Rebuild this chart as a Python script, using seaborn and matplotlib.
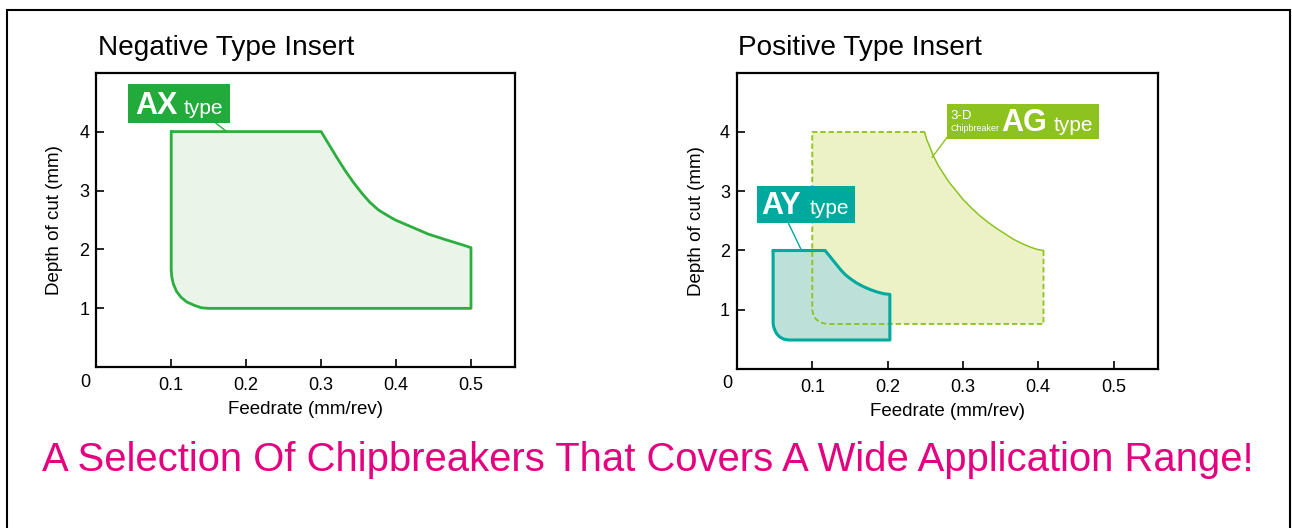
import matplotlib
matplotlib.use("Agg")
import matplotlib.pyplot as plt
from matplotlib.patches import Rectangle
import seaborn as sns

# Chart data
feed_ticks = [0.1, 0.2, 0.3, 0.4, 0.5]
depth_ticks = [1, 2, 3, 4]

# AX type (negative insert) outline
ax_feed = [0.10, 0.30, 0.310, 0.321, 0.332, 0.343, 0.354, 0.365, 0.3765, 0.388,
           0.399, 0.421, 0.443, 0.465, 0.488, 0.50, 0.50, 0.149, 0.140, 0.131,
           0.1205, 0.113, 0.107, 0.1027, 0.1007, 0.10, 0.10]
ax_depth = [4.0, 4.0, 3.79, 3.56, 3.34, 3.14, 2.96, 2.80, 2.67, 2.58,
            2.50, 2.38, 2.26, 2.17, 2.08, 2.03, 1.0, 1.0, 1.01, 1.05,
            1.11, 1.19, 1.29, 1.42, 1.54, 1.65, 4.0]

# AG type (3-D chipbreaker, positive insert) outline
ag_feed = [0.10, 0.249, 0.252, 0.256, 0.261, 0.267, 0.275, 0.283, 0.292, 0.301,
           0.312, 0.323, 0.334, 0.345, 0.356, 0.367, 0.378, 0.389, 0.398, 0.407,
           0.407, 0.119, 0.111, 0.105, 0.1015, 0.10, 0.10]
ag_depth = [4.0, 4.0, 3.87, 3.75, 3.59, 3.44, 3.28, 3.13, 2.99, 2.85,
            2.71, 2.58, 2.47, 2.37, 2.28, 2.19, 2.12, 2.06, 2.02, 2.0,
            0.76, 0.76, 0.785, 0.84, 0.91, 0.995, 4.0]

# AY type (positive insert) outline
ay_feed = [0.048, 0.117, 0.124, 0.131, 0.138, 0.144, 0.151, 0.159, 0.168, 0.177,
           0.186, 0.195, 0.203, 0.203, 0.068, 0.062, 0.057, 0.053, 0.0505, 0.0488,
           0.048, 0.048]
ay_depth = [2.0, 2.0, 1.89, 1.78, 1.67, 1.59, 1.52, 1.45, 1.39, 1.34,
            1.30, 1.27, 1.26, 0.49, 0.49, 0.505, 0.54, 0.59, 0.65, 0.71,
            0.77, 2.0]

GREEN = "#2bae3e"
GREEN_BOX = "#22ab3b"
GREEN_FILL = "#eaf4e9"
LIME = "#8dc21f"
LIME_FILL = "#ecf2c5"
TEAL = "#00a99d"
TEAL_FILL = "#bde1d8"
PINK = "#e4007f"

sns.set_theme(style="white")
plt.rcParams["font.family"] = ["Liberation Sans", "DejaVu Sans"]
plt.rcParams["text.color"] = "black"
plt.rcParams["axes.labelcolor"] = "black"
plt.rcParams["xtick.color"] = "black"
plt.rcParams["ytick.color"] = "black"

fig = plt.figure(figsize=(12.92, 5.28), dpi=100)
ax1 = fig.add_axes([0.0745, 0.3044, 0.3241, 0.5580])
ax2 = fig.add_axes([0.5704, 0.3011, 0.3257, 0.5612])


def style_axes(ax, ylab_x, zero_xy):
    ax.set_xlim(0, 0.5587)
    ax.set_ylim(0, 5.0)
    ax.set_xticks(feed_ticks)
    ax.set_xticklabels([str(v) for v in feed_ticks])
    ax.set_yticks(depth_ticks)
    ax.set_yticklabels([str(v) for v in depth_ticks])
    for s in ax.spines.values():
        s.set_visible(True)
        s.set_color("black")
        s.set_linewidth(1.6)
    ax.tick_params(axis="both", which="major", direction="in", length=6,
                   width=1.2, labelsize=13, bottom=True, left=True,
                   colors="black")
    ax.tick_params(axis="x", pad=7)
    ax.tick_params(axis="y", pad=5)
    ax.set_xlabel("Feedrate (mm/rev)", fontsize=13.5)
    ax.set_ylabel("Depth of cut (mm)", fontsize=13.5)
    ax.xaxis.set_label_coords(0.5, -0.145)
    ax.xaxis.label.set_va("center")
    ax.yaxis.set_label_coords(ylab_x, 0.5)
    ax.yaxis.label.set_va("center")
    ax.text(zero_xy[0], zero_xy[1], "0", transform=ax.transAxes, fontsize=13,
            ha="center", va="center")
    ax.grid(False)


style_axes(ax1, -0.099, (-0.027, -0.05))
style_axes(ax2, -0.095, (-0.022, -0.05))

# ---- Negative insert: AX type
ax1.fill(ax_feed, ax_depth, color=GREEN_FILL, lw=0, zorder=1)
sns.lineplot(x=ax_feed, y=ax_depth, sort=False, estimator=None, ax=ax1,
             color=GREEN, linewidth=2.0, solid_joinstyle="round", zorder=3)
ax1.plot([0.159, 0.174], [4.15, 4.0], color=GREEN, lw=1.0, zorder=3)
ax1.add_patch(Rectangle((0.0427, 4.15), 0.1363, 0.66, color=GREEN_BOX, lw=0, zorder=4))
ax1.text(0.0525, 4.305, "AX", color="white", fontsize=22, fontweight="bold",
         ha="left", va="baseline", zorder=5)
ax1.text(0.117, 4.305, "type", color="white", fontsize=15,
         ha="left", va="baseline", zorder=5)

# ---- Positive insert: AG type and AY type
ax2.fill(ag_feed, ag_depth, color=LIME_FILL, lw=0, zorder=1)
ax2.fill(ay_feed, ay_depth, color=TEAL_FILL, lw=0, zorder=2)
sns.lineplot(x=ag_feed[1:20], y=ag_depth[1:20], sort=False, estimator=None,
             ax=ax2, color=LIME, linewidth=1.1, zorder=3)
sns.lineplot(x=ag_feed[19:] + ag_feed[1:2], y=ag_depth[19:] + ag_depth[1:2],
             sort=False, estimator=None, ax=ax2, color=LIME, linewidth=1.3,
             linestyle=(0, (3, 1.6)), zorder=3)
sns.lineplot(x=ay_feed, y=ay_depth, sort=False, estimator=None, ax=ax2,
             color=TEAL, linewidth=2.2, solid_joinstyle="round", zorder=4)

ax2.plot([0.279, 0.259], [3.91, 3.57], color=LIME, lw=1.0, zorder=3)
ax2.add_patch(Rectangle((0.279, 3.88), 0.202, 0.59, color=LIME, lw=0, zorder=5))
ax2.text(0.2838, 4.22, "3-D", color="white", fontsize=9.5,
         ha="left", va="baseline", zorder=6)
ax2.text(0.2835, 4.01, "Chipbreaker", color="white", fontsize=6.4,
         ha="left", va="baseline", zorder=6)
ax2.text(0.3515, 4.02, "AG", color="white", fontsize=22, fontweight="bold",
         ha="left", va="baseline", zorder=6)
ax2.text(0.421, 4.02, "type", color="white", fontsize=15,
         ha="left", va="baseline", zorder=6)

ax2.plot([0.068, 0.085], [2.47, 2.02], color=TEAL, lw=1.0, zorder=4)
ax2.add_patch(Rectangle((0.027, 2.47), 0.130, 0.62, color=TEAL, lw=0, zorder=5))
ax2.text(0.0328, 2.614, "AY", color="white", fontsize=22, fontweight="bold",
         ha="left", va="baseline", zorder=6)
ax2.text(0.097, 2.614, "type", color="white", fontsize=15,
         ha="left", va="baseline", zorder=6)

# titles and slogan
fig.text(98 / 1292, 1 - 55 / 528, "Negative Type Insert", fontsize=20.2,
         ha="left", va="baseline")
fig.text(738 / 1292, 1 - 55 / 528, "Positive Type Insert", fontsize=20.2,
         ha="left", va="baseline")
fig.text(648 / 1292, 1 - 460 / 528,
         "A Selection Of Chipbreakers That Covers A Wide Application Range!",
         fontsize=28.8, color=PINK, ha="center", va="center")

# outer frame (bottom edge runs off the picture)
fig.patches.append(Rectangle((7 / 1292, -0.1), 1283 / 1292, 1.1 - 10 / 528,
                             transform=fig.transFigure, fill=False,
                             edgecolor="black", lw=1.5))

fig.savefig("out.png", dpi=100)
